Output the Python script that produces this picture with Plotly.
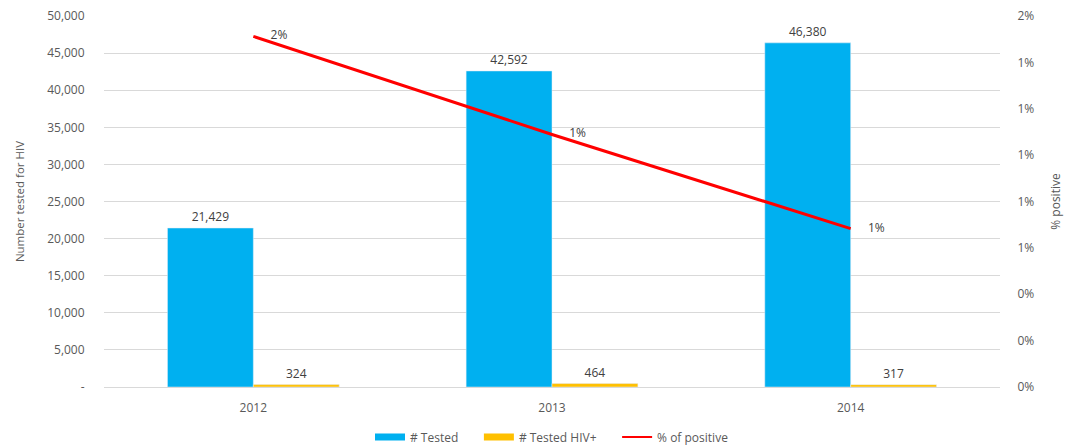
import plotly.graph_objects as go

years = ["2012", "2013", "2014"]
tested = [21429, 42592, 46380]
tested_pos = [324, 464, 317]
pct_positive = [0.01512, 0.01089, 0.00683]
pct_labels = ["2%", "1%", "1%"]

left_ticks = [0, 5000, 10000, 15000, 20000, 25000, 30000, 35000, 40000, 45000, 50000]
left_ticktext = ["-", "5,000", "10,000", "15,000", "20,000", "25,000", "30,000", "35,000", "40,000", "45,000", "50,000"]
right_ticks = [0, 0.002, 0.004, 0.006, 0.008, 0.010, 0.012, 0.014, 0.016]
right_ticktext = ["0%", "0%", "0%", "1%", "1%", "1%", "1%", "1%", "2%"]

font_main = "Open Sans, DejaVu Sans, sans-serif"
grey = "#595959"
blue = "#00b0f0"
gold = "#ffc000"
red = "#ff0000"
pad = "\u00a0" * 5

fig = go.Figure()
fig.add_trace(go.Bar(
    x=years, y=tested, name="# Tested", marker_color=blue, showlegend=False,
    text=[f"{v:,}" for v in tested], textposition="outside",
    textfont=dict(size=12, color="#404040"), cliponaxis=False,
))
fig.add_trace(go.Bar(
    x=years, y=tested_pos, name="# Tested HIV+", marker_color=gold, showlegend=False,
    text=[f"{v:,}" for v in tested_pos], textposition="outside",
    textfont=dict(size=12, color="#404040"), cliponaxis=False,
))
fig.add_trace(go.Scatter(
    x=years, y=pct_positive, name="% of positive", yaxis="y2", showlegend=False,
    mode="lines+markers+text", line=dict(color=red, width=3),
    marker=dict(size=26, opacity=0, color=red),
    text=pct_labels, textposition="middle right",
    textfont=dict(size=12, color="#404040"), cliponaxis=False,
))
# legend entries (wide swatches like the original)
fig.add_trace(go.Scatter(x=[None], y=[None], mode="lines", name="# Tested" + pad,
                         line=dict(color=blue, width=7)))
fig.add_trace(go.Scatter(x=[None], y=[None], mode="lines", name="# Tested HIV+" + pad,
                         line=dict(color=gold, width=7)))
fig.add_trace(go.Scatter(x=[None], y=[None], mode="lines", name="% of positive",
                         line=dict(color=red, width=2)))

fig.update_layout(
    width=1065, height=446,
    margin=dict(l=104, r=65, t=16, b=59, autoexpand=False),
    paper_bgcolor="white", plot_bgcolor="white",
    font=dict(family=font_main, size=12, color=grey),
    barmode="group", bargap=0.425, bargroupgap=0,
    xaxis=dict(type="category", showgrid=False, showline=False,
               ticks="outside", ticklen=10, tickcolor="rgba(0,0,0,0)",
               tickfont=dict(size=12, color=grey), automargin=False),
    yaxis=dict(range=[0, 50000], tickvals=left_ticks, ticktext=left_ticktext,
               showgrid=True, gridcolor="#d9d9d9", gridwidth=1,
               zeroline=True, zerolinecolor="#d9d9d9", zerolinewidth=1,
               ticks="outside", ticklen=16, tickcolor="rgba(0,0,0,0)",
               tickfont=dict(size=12, color=grey), automargin=False,
               title=dict(text="Number tested for HIV", font=dict(size=11.5, color=grey), standoff=20)),
    yaxis2=dict(range=[0, 0.016], tickvals=right_ticks, ticktext=right_ticktext,
                overlaying="y", side="right", showgrid=False, zeroline=False,
                ticks="outside", ticklen=14, tickcolor="rgba(0,0,0,0)",
                tickfont=dict(size=12, color=grey), automargin=False,
                title=dict(text="% positive", font=dict(size=12, color=grey), standoff=18)),
    legend=dict(orientation="h", x=0.5, xanchor="center", xref="paper",
                y=0.02, yref="container", yanchor="middle",
                font=dict(size=12, color=grey), traceorder="normal"),
    showlegend=True,
)

fig.write_html("out.html")
